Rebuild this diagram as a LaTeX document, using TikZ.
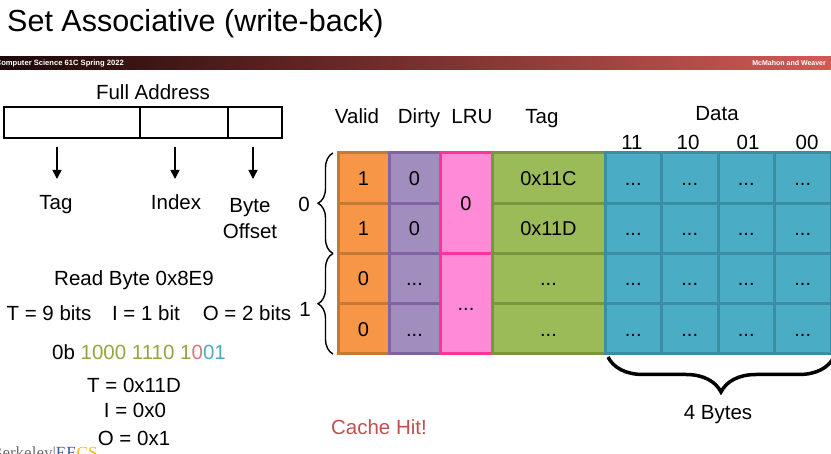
\documentclass[tikz,border=0pt]{standalone}
\usepackage{fontspec}
\setmainfont{Liberation Sans}
\newfontfamily\logofont{Liberation Serif}
\usetikzlibrary{positioning,arrows.meta,decorations.pathreplacing}
\definecolor{barleft}{HTML}{1C0707}
\definecolor{barmid}{HTML}{7E2C2A}
\definecolor{barright}{HTML}{D25A55}
\definecolor{validfill}{HTML}{F79646}
\definecolor{validline}{HTML}{C47A37}
\definecolor{dirtyfill}{HTML}{A28EBE}
\definecolor{dirtyline}{HTML}{8064A2}
\definecolor{lrufill}{HTML}{FF8AD8}
\definecolor{lruline}{HTML}{FF3399}
\definecolor{tagfill}{HTML}{9BBB59}
\definecolor{tagline}{HTML}{7A9440}
\definecolor{datafill}{HTML}{4BACC6}
\definecolor{dataline}{HTML}{3A8DA4}
\definecolor{tagbits}{HTML}{93A640}
\definecolor{indexbits}{HTML}{D9787A}
\definecolor{offsetbits}{HTML}{4BACC6}
\definecolor{hitred}{HTML}{C0504D}
\definecolor{logogray}{HTML}{6E6E6E}
\definecolor{logoblue}{HTML}{3B5A9A}
\definecolor{logogold}{HTML}{FDB515}
\begin{document}
\begin{tikzpicture}[x=1pt, y=-1pt,
    lbl/.style={inner sep=0pt, text height=14.5pt, text depth=0pt, font=\fontsize{20.5}{23}\selectfont},
    field/.style={rectangle, draw=black, line width=1.5pt, minimum height=31pt, outer sep=0pt, inner sep=0pt},
    cell/.style={rectangle, line width=3pt, minimum height=50.25pt, outer sep=0pt, inner sep=0pt, text height=14.5pt, text depth=0pt, font=\fontsize{20}{24}\selectfont},
    validcell/.style={cell, fill=validfill, draw=validline, minimum width=51pt},
    dirtycell/.style={cell, fill=dirtyfill, draw=dirtyline, minimum width=51pt},
    lrucell/.style={cell, fill=lrufill, draw=lruline, minimum width=52pt, minimum height=100.5pt},
    tagcell/.style={cell, fill=tagfill, draw=tagline, minimum width=113pt},
    datacell/.style={cell, fill=datafill, draw=dataline, minimum width=56.5pt},
    arrow/.style={line width=1.5pt, -{Triangle[length=9pt, width=9pt]}},
    setbrace/.style={decorate, decoration={brace, amplitude=15pt}, line width=1.4pt},
    bytebrace/.style={decorate, decoration={brace, amplitude=35pt}, line width=3.5pt}
]
    \useasboundingbox (0,0) rectangle (831,454);
    % Title and course bar
    \node[anchor=base west, inner sep=0pt, font=\fontsize{30.5}{36}\selectfont] (title) at (7,32) {Set Associative (write-back)};
    \shade[left color=barleft, middle color=barmid, right color=barright] (0,57) rectangle (831,70);
    \node[anchor=east, inner sep=0pt, text=white, font=\fontsize{7.6}{8}\bfseries\selectfont] (course) at (124,63.5) {Computer Science 61C Spring 2022};
    \node[anchor=east, inner sep=0pt, text=white, font=\fontsize{7}{8}\bfseries\selectfont] (authors) at (826,63.5) {McMahon and Weaver};

    % Full address fields
    \node[lbl] (fulladdr) at (153,92) {Full Address};
    \node[field, minimum width=136pt, anchor=north west] (tagfield) at (4,107) {};
    \node[field, minimum width=88pt, at=(tagfield.east), anchor=west] (indexfield) {};
    \node[field, minimum width=54pt, at=(indexfield.east), anchor=west] (offsetfield) {};
    \node[lbl] (taglbl) at (56,202.5) {Tag};
    \node[lbl] (indexlbl) at (176,202.5) {Index};
    \node[inner sep=0pt, align=center, anchor=base, font=\fontsize{20.5}{26}\selectfont] (offsetlbl) at (250,239) {Byte\\Offset};
    \coordinate (tagfrom) at (57,147);
    \coordinate (tagto) at (57,179);
    \coordinate (indexfrom) at (175,147);
    \coordinate (indexto) at (175,179);
    \coordinate (offsetfrom) at (253,147);
    \coordinate (offsetto) at (253,179);
    \draw[arrow] (tagfrom) -- (tagto);
    \draw[arrow] (indexfrom) -- (indexto);
    \draw[arrow] (offsetfrom) -- (offsetto);

    % Address breakdown
    \node[lbl] (readbyte) at (134,278) {Read Byte 0x8E9};
    \node[lbl] (tbits) at (49,313) {T = 9 bits};
    \node[lbl] (ibits) at (146,313) {I = 1 bit};
    \node[lbl] (obits) at (247,313) {O = 2 bits};
    \node[lbl] (binary) at (139,352) {0b {\color{tagbits}1000 1110 1}{\color{indexbits}0}{\color{offsetbits}01}};
    \node[lbl] (tval) at (134,385) {T = 0x11D};
    \node[lbl] (ival) at (135,410) {I = 0x0};
    \node[lbl] (oval) at (134,438) {O = 0x1};
    \node[lbl, text=hitred] (hit) at (379,427) {Cache Hit!};
    \node[anchor=base west, inner sep=0pt, font=\logofont\fontsize{17}{20}\selectfont] (logo) at (-9,459) {{\color{logogray}Berkeley|}{\color{logoblue}EE}{\color{logogold}CS}};

    % Column headers
    \node[lbl] (validh) at (357,116) {Valid};
    \node[lbl] (dirtyh) at (419,116) {Dirty};
    \node[lbl] (lruh) at (472,116) {LRU};
    \node[lbl] (tagh) at (542,116) {Tag};
    \node[lbl] (datah) at (717,113) {Data};
    \node[lbl] (byte3) at (632,142) {11};
    \node[lbl] (byte2) at (688,142) {10};
    \node[lbl] (byte1) at (748,142) {01};
    \node[lbl] (byte0) at (807,142) {00};

    % Valid and dirty bits
    \node[validcell, anchor=north west] (v1) at (338,153) {1};
    \node[validcell, below=0pt of v1] (v2) {1};
    \node[validcell, below=0pt of v2] (v3) {0};
    \node[validcell, below=0pt of v3] (v4) {0};
    \node[dirtycell, at=(v1.east), anchor=west] (d1) {0};
    \node[dirtycell, at=(v2.east), anchor=west] (d2) {0};
    \node[dirtycell, at=(v3.east), anchor=west] (d3) {...};
    \node[dirtycell, at=(v4.east), anchor=west] (d4) {...};

    % LRU per set
    \node[lrucell, at=(d1.north east), anchor=north west] (l0) {0};
    \node[lrucell, below=0pt of l0] (l1) {...};

    % Tags
    \node[tagcell, at=(l0.north east), anchor=north west] (t1) {0x11C};
    \node[tagcell, below=0pt of t1] (t2) {0x11D};
    \node[tagcell, below=0pt of t2] (t3) {...};
    \node[tagcell, below=0pt of t3] (t4) {...};

    % Data blocks
    \node[datacell, at=(t1.east), anchor=west] (da1) {...};
    \node[datacell, at=(da1.east), anchor=west] (db1) {...};
    \node[datacell, at=(db1.east), anchor=west] (dc1) {...};
    \node[datacell, at=(dc1.east), anchor=west] (dd1) {...};
    \node[datacell, at=(t2.east), anchor=west] (da2) {...};
    \node[datacell, at=(da2.east), anchor=west] (db2) {...};
    \node[datacell, at=(db2.east), anchor=west] (dc2) {...};
    \node[datacell, at=(dc2.east), anchor=west] (dd2) {...};
    \node[datacell, at=(t3.east), anchor=west] (da3) {...};
    \node[datacell, at=(da3.east), anchor=west] (db3) {...};
    \node[datacell, at=(db3.east), anchor=west] (dc3) {...};
    \node[datacell, at=(dc3.east), anchor=west] (dd3) {...};
    \node[datacell, at=(t4.east), anchor=west] (da4) {...};
    \node[datacell, at=(da4.east), anchor=west] (db4) {...};
    \node[datacell, at=(db4.east), anchor=west] (dc4) {...};
    \node[datacell, at=(dc4.east), anchor=west] (dd4) {...};

    % Set braces
    \draw[setbrace] ([xshift=-5pt]v2.south west) -- ([xshift=-5pt]v1.north west);
    \draw[setbrace] ([xshift=-5pt]v4.south west) -- ([xshift=-5pt]v3.north west);
    \node[lbl] (set0) at (304,204) {0};
    \node[lbl] (set1) at (305,309) {1};

    % Block size
    \draw[bytebrace] ([xshift=3pt, yshift=-3pt]dd4.south east) -- ([xshift=3pt, yshift=-3pt]da4.south west);
    \node[lbl] (bytes) at (718,412.5) {4 Bytes};
\end{tikzpicture}
\end{document}
